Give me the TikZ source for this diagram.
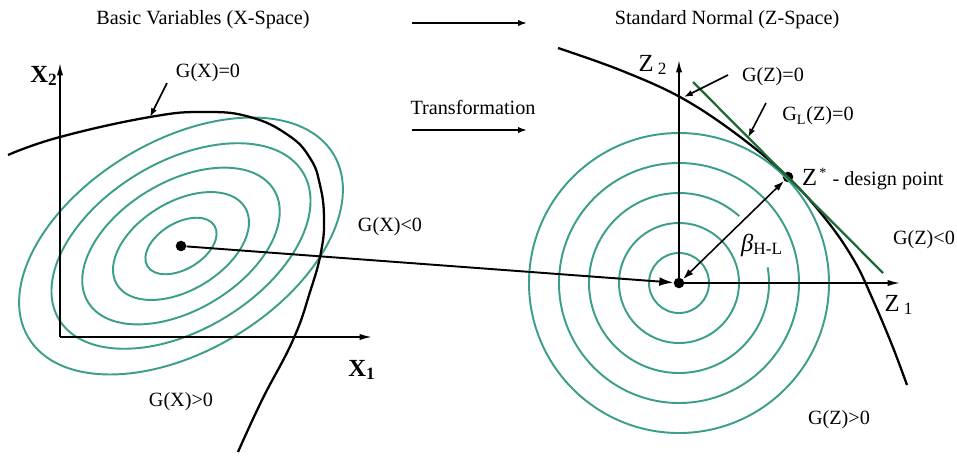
\documentclass[tikz,border=0pt]{standalone}
\usepackage{fontspec}
\setmainfont{Liberation Serif}
\usepackage{tikz}
\usetikzlibrary{arrows.meta,calc}
\definecolor{CT}{HTML}{3A9E8A}
\definecolor{CG}{HTML}{1E6B36}

\begin{document}
\begin{tikzpicture}[x=0.02cm, y=-0.02cm,
    lbl/.style={font=\fontsize{11.5}{11.5}\selectfont, inner sep=1pt},
    axlbl/.style={font=\fontsize{14}{14}\selectfont, inner sep=1pt},
    axis/.style={line width=0.9pt, -{Latex[length=7pt,width=3.5pt]}},
    curve/.style={line width=1.3pt},
    contour/.style={CT, line width=1.1pt},
    pointer/.style={line width=0.9pt, -{Latex[length=5pt,width=3.5pt]}},
    dot/.style={circle, fill, inner sep=0pt, minimum size=6pt}]

    \useasboundingbox (0,0) rectangle (957,457);

    %% key points
    \node[dot] (mx) at (181,246) {};
    \node[dot] (oz) at (679,283) {};
    \node[dot] (zs) at (788,177) {};
    \coordinate (ox) at (60,337);

    %% contours, X-space
    \foreach \s in {0.22,0.42,0.61,0.8,1}{
      \draw[contour, rotate around={31:(mx.center)}]
        (mx.center) ellipse [x radius=178*\s, y radius=105*\s];
    }

    %% contours, Z-space (one broken under the beta label)
    \foreach \r in {30,60,120,150}{
      \draw[contour] (oz.center) circle [radius=\r];
    }
    \draw[contour] ($(oz.center)+(-10:90)$) arc [start angle=-10, end angle=312, radius=90];

    %% limit state G(X)=0
    \draw[curve] plot[smooth, tension=0.75] coordinates {
      (8,155) (60,137) (150,117) (205,112) (250,117) (288,135)
      (310,158) (320,185) (324,218) (321,252) (310,292)
      (293,340) (262,400) (238,452)};

    %% limit state G(Z)=0
    \draw[curve] plot[smooth, tension=0.6] coordinates {
      (558,48) (620,70) (680,97) (735,133) (788,177) (828,222)
      (855,262) (873,300) (892,345) (907,385)};

    %% linear approximation
    \coordinate (gla) at (693,82);
    \coordinate (glb) at (883,273);
    \draw[CG, line width=1.3pt] (gla) -- (glb);

    %% axes
    \coordinate (x2tip) at (60,63);
    \coordinate (x1tip) at (372,337);
    \draw[axis] (ox) -- (x2tip);
    \draw[axis] (ox) -- (x1tip);
    \coordinate (z2tip) at (679,60);
    \coordinate (z1tip) at (900,283);
    \draw[axis] (oz.center) -- (z2tip);
    \draw[axis] (oz.center) -- (z1tip);

    %% titles
    \node[lbl] (ttlx) at (203,20) {Basic Variables (X-Space)};
    \node[lbl] (ttlz) at (727,20) {Standard Normal (Z-Space)};
    \node[lbl] (trans) at (473,107) {Transformation};
    \coordinate (ta1) at (412,23);
    \coordinate (tb1) at (527,23);
    \coordinate (ta2) at (412,130);
    \coordinate (tb2) at (527,130);
    \draw[pointer] (ta1) -- (tb1);
    \draw[pointer] (ta2) -- (tb2);

    %% axis labels
    \node[axlbl, font=\fontsize{14}{14}\selectfont\bfseries] (lx2) at (44,76) {X\textsubscript{2}};
    \node[axlbl, font=\fontsize{14}{14}\selectfont\bfseries] (lx1) at (362,370) {X\textsubscript{1}};
    \node[axlbl] (lz2) at (653,65) {Z\,\textsubscript{2}};
    \node[axlbl] (lz1) at (899,305) {Z\,\textsubscript{1}};

    %% region labels
    \node[lbl] (gx0) at (208,73) {G(X)=0};
    \node[lbl] (gxn) at (390,227) {G(X)<0};
    \node[lbl] (gxp) at (181,402) {G(X)>0};
    \node[lbl] (gz0) at (773,77) {G(Z)=0};
    \node[lbl] (gl0) at (818,116) {G\textsubscript{L}(Z)=0};
    \node[lbl] (gzn) at (924,240) {G(Z)<0};
    \node[lbl] (gzp) at (839,420) {G(Z)>0};

    %% pointers to the curves
    \coordinate (gx0from) at (167,83);
    \coordinate (gx0tip) at (150,117);
    \draw[pointer] (gx0from) -- (gx0tip);
    \coordinate (gz0from) at (728,75);
    \coordinate (gz0tip) at (684,97);
    \draw[pointer] (gz0from) -- (gz0tip);
    \coordinate (gl0from) at (766,103);
    \draw[pointer] (gl0from) -- ($(gla)!0.29!(glb)$);

    %% design point and reliability index
    \node[lbl, anchor=west] (lzs) at (800,179)
      {{\fontsize{14}{14}\selectfont Z}\textsuperscript{\,*} - design point};
    \draw[line width=0.9pt, {Latex[length=6pt,width=4pt]}-{Latex[length=6pt,width=4pt]}] (oz) -- (zs);
    \node[lbl, font=\fontsize{14}{14}\selectfont] (lb) at (762,245) {\textit{β}\textsubscript{H-L}};

    %% mapping X -> Z
    \draw[line width=1.1pt, -{Latex[length=8pt,width=5pt]}] (mx) -- (oz);

\end{tikzpicture}
\end{document}
